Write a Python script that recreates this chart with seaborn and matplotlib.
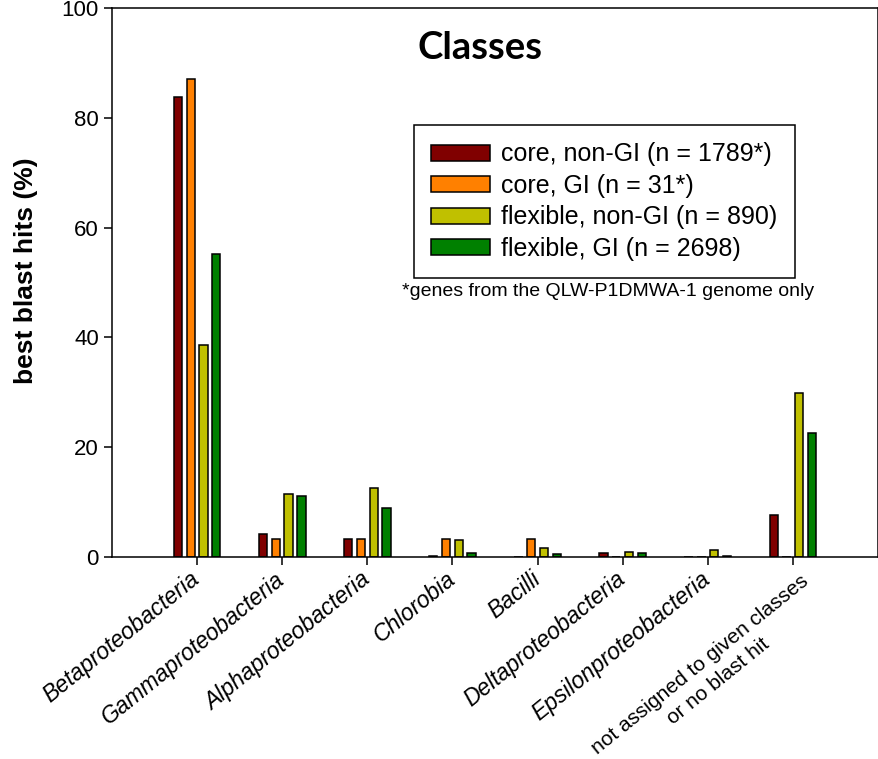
import pandas as pd
import matplotlib.pyplot as plt
import matplotlib.transforms as mtransforms
import seaborn as sns

# ── data ──
classes = ["Betaproteobacteria", "Gammaproteobacteria", "Alphaproteobacteria",
           "Chlorobia", "Bacilli", "Deltaproteobacteria", "Epsilonproteobacteria",
           "not assigned to given classes\nor no blast hit"]
groups = ["core, non-GI (n = 1789*)", "core, GI (n = 31*)",
          "flexible, non-GI (n = 890)", "flexible, GI (n = 2698)"]
core_nongi = [83.8, 4.2, 3.2, 0.1, 0.0, 0.7, 0.0, 7.7]
core_gi = [87.1, 3.2, 3.2, 3.2, 3.2, 0.0, 0.0, 0.0]
flex_nongi = [38.7, 11.5, 12.6, 3.1, 1.6, 1.0, 1.3, 29.8]
flex_gi = [55.2, 11.1, 8.9, 0.7, 0.6, 0.8, 0.1, 22.5]
colors = ["#800000", "#FF8000", "#C0C000", "#008000"]

rows = []
for g, vals in zip(groups, [core_nongi, core_gi, flex_nongi, flex_gi]):
    for c, v in zip(classes, vals):
        rows.append({"cls": c, "grp": g, "val": v})
df = pd.DataFrame(rows)

sns.set_theme(style="white")
plt.rcParams["font.family"] = ["Liberation Sans", "DejaVu Sans"]
plt.rcParams.update({"text.color": "black", "axes.labelcolor": "black",
                     "xtick.color": "black", "ytick.color": "black"})

fig, ax = plt.subplots(figsize=(8.79, 7.59), dpi=100)
fig.subplots_adjust(left=112 / 879, right=878 / 879, top=1 - 8 / 759, bottom=1 - 557 / 759)

sns.barplot(data=df, x="cls", y="val", hue="grp", order=classes, hue_order=groups,
            palette=colors, width=0.6, gap=0.35, edgecolor="black", linewidth=1.1,
            saturation=1, ax=ax)

ax.set_xlim(-1, 8)
ax.set_ylim(0, 100)
ax.set_yticks([0, 20, 40, 60, 80, 100])
ax.set_xlabel("")
ax.set_ylabel("best blast hits (%)", fontsize=19, fontweight="bold")
ax.yaxis.set_label_coords(-0.097, 0.521)
for s in ax.spines.values():
    s.set_color("black")
    s.set_linewidth(1.1)
ax.tick_params(axis="both", direction="out", length=6, width=1.1, color="black",
               labelcolor="black", labelsize=16, bottom=True, left=True, top=False, right=False)
ax.tick_params(axis="x", pad=8)

# last category name is two lines; the first goes on the tick, the second below it
first_line, second_line = classes[-1].split("\n")
ax.set_xticks(range(len(classes)))
ax.set_xticklabels(classes[:-1] + [first_line], rotation=39, ha="right", va="center",
                   rotation_mode="anchor", fontsize=16.5)
labels = ax.get_xticklabels()
for lab in labels[:-1]:
    lab.set_style("italic")
last = labels[-1]
last.set_fontsize(15)
last.set_va("top")
last.set_transform(last.get_transform() +
                   mtransforms.ScaledTranslation(7 / 100, 5 / 100, fig.dpi_scale_trans))
ax.annotate(second_line, xy=(len(classes) - 1, 0), xycoords=ax.get_xaxis_transform(),
            xytext=(-53.8, -89.3), textcoords="offset points", rotation=39,
            rotation_mode="anchor", ha="center", va="center", fontsize=15,
            annotation_clip=False)

ax.text(0.48, 0.927, "Classes", transform=ax.transAxes, ha="center", va="center",
        fontsize=27.5, fontweight="bold", family=["Lato", "DejaVu Sans"])

leg = ax.legend(loc="upper left", bbox_to_anchor=(0.394, 0.787), fontsize=18,
                frameon=True, fancybox=False, shadow=False, edgecolor="black",
                framealpha=1, handlelength=2.35, handleheight=0.6, handletextpad=0.45,
                labelspacing=0.3, borderpad=0.7, borderaxespad=0)
leg.get_frame().set_linewidth(1.1)

ax.text(0.378, 0.483, "*genes from the QLW-P1DMWA-1 genome only", transform=ax.transAxes,
        ha="left", va="center", fontsize=14)

plt.savefig("out.png", dpi=100)
